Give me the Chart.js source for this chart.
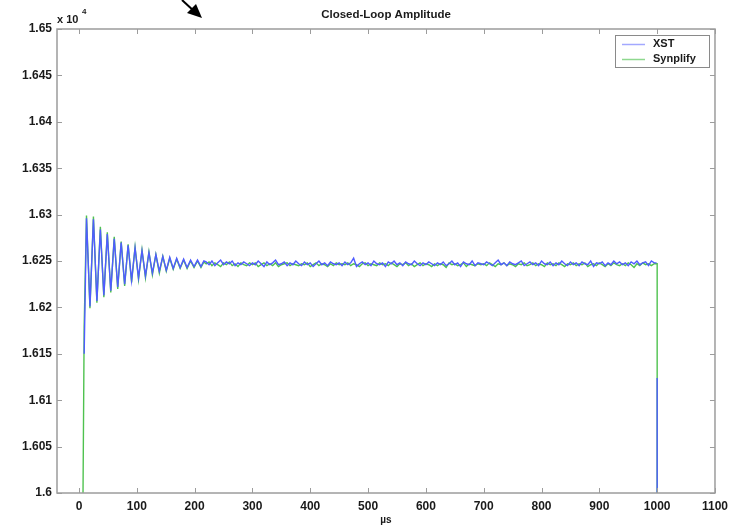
<!DOCTYPE html>
<html>
<head>
<meta charset="utf-8">
<script src="https://cdn.jsdelivr.net/npm/chart.js@4.4.1/dist/chart.umd.min.js"></script>
<style>
  body { margin: 0; background: #fff; }
  #wrap { width: 734px; height: 526px; position: relative; }
</style>
</head>
<body>
<div id="wrap"><canvas id="grafico"></canvas></div>
<script>
const xTicks = [0, 100, 200, 300, 400, 500, 600, 700, 800, 900, 1000, 1100];
const yTicks = [16000, 16050, 16100, 16150, 16200, 16250, 16300, 16350, 16400, 16450, 16500];
const seriesNames = ['XST', 'Synplify'];

// start-up ringing (µs / raw amplitude)
const rampTimes = [7, 9, 13, 19, 25, 31, 37, 43, 49, 55, 61, 67, 73, 79, 85, 91, 97, 103, 109, 115,
  121, 127, 133, 139, 145, 151, 157, 163, 169, 175, 181, 187, 193, 199, 205, 211, 216];
const rampXst = [null, 16150, 16296, 16201, 16295, 16207, 16284, 16213, 16279, 16218, 16274, 16222, 16270, 16225, 16267, 16229, 16264, 16232, 16261, 16234,
  16259, 16237, 16257, 16239, 16255, 16240, 16254, 16242, 16253, 16243, 16252, 16243, 16251, 16244, 16251, 16244, 16250];
const rampSynplify = [16000, 16180, 16299, 16199, 16298, 16205, 16287, 16211, 16281, 16216, 16276, 16220, 16271, 16223, 16268, 16227, 16265, 16230, 16262, 16232,
  16260, 16235, 16257, 16237, 16255, 16239, 16253, 16241, 16252, 16242, 16251, 16242, 16250, 16243, 16250, 16243, 16249];

// steady state
const steadyTimes = [
  220, 225, 230, 235, 240, 245, 250, 255, 260, 265, 270, 275, 280, 285, 290, 295,
  300, 305, 310, 315, 320, 325, 330, 335, 340, 345, 350, 355, 360, 365, 370, 375,
  380, 385, 390, 395, 400, 405, 410, 415, 420, 425, 430, 435, 440, 445, 450, 455,
  460, 465, 470, 475, 480, 485, 490, 495, 500, 505, 510, 515, 520, 525, 530, 535,
  540, 545, 550, 555, 560, 565, 570, 575, 580, 585, 590, 595, 600, 605, 610, 615,
  620, 625, 630, 635, 640, 645, 650, 655, 660, 665, 670, 675, 680, 685, 690, 695,
  700, 705, 710, 715, 720, 725, 730, 735, 740, 745, 750, 755, 760, 765, 770, 775,
  780, 785, 790, 795, 800, 805, 810, 815, 820, 825, 830, 835, 840, 845, 850, 855,
  860, 865, 870, 875, 880, 885, 890, 895, 900, 905, 910, 915, 920, 925, 930, 935,
  940, 945, 950, 955, 960, 965, 970, 975, 980, 985, 990, 995];
const steadyXst = [
  16249, 16246, 16250, 16245, 16248, 16251, 16246, 16249, 16247, 16250, 16245, 16248, 16246, 16249, 16247, 16245,
  16248, 16246, 16250, 16247, 16244, 16249, 16246, 16248, 16251, 16246, 16247, 16249, 16245, 16248, 16246, 16250,
  16247, 16245, 16249, 16246, 16248, 16244, 16247, 16250, 16246, 16248, 16245, 16249, 16247, 16246, 16248, 16245,
  16249, 16246, 16248, 16253, 16244, 16247, 16249, 16246, 16248, 16245, 16250, 16247, 16246, 16248, 16244, 16249,
  16247, 16250, 16246, 16248, 16245, 16249, 16247, 16246, 16250, 16247, 16245, 16248, 16246, 16249, 16247, 16245,
  16248, 16246, 16249, 16245, 16247, 16250, 16246, 16248, 16244, 16249, 16247, 16246, 16250, 16245, 16248, 16247,
  16246, 16249, 16247, 16245, 16248, 16251, 16246, 16248, 16245, 16249, 16247, 16246, 16248, 16250, 16245, 16247,
  16249, 16246, 16248, 16245, 16250, 16247, 16246, 16249, 16245, 16248, 16246, 16250, 16247, 16245, 16249, 16246,
  16248, 16245, 16249, 16247, 16246, 16250, 16244, 16248, 16247, 16249, 16245, 16248, 16246, 16250, 16247, 16249,
  16246, 16248, 16245, 16249, 16247, 16250, 16246, 16248, 16249, 16245, 16250, 16248];
const steadySynplify = [
  16247, 16249, 16245, 16248, 16246, 16244, 16248, 16246, 16249, 16245, 16247, 16244, 16248, 16246, 16245, 16248,
  16246, 16248, 16244, 16246, 16248, 16245, 16247, 16245, 16248, 16244, 16246, 16247, 16248, 16245, 16247, 16246,
  16245, 16247, 16246, 16248, 16244, 16246, 16248, 16245, 16247, 16246, 16244, 16247, 16245, 16248, 16246, 16247,
  16246, 16248, 16245, 16247, 16246, 16244, 16247, 16248, 16245, 16247, 16246, 16245, 16248, 16246, 16247, 16245,
  16248, 16246, 16244, 16247, 16246, 16248, 16245, 16247, 16244, 16246, 16248, 16245, 16247, 16246, 16244, 16247,
  16245, 16247, 16246, 16243, 16248, 16246, 16247, 16245, 16246, 16248, 16244, 16247, 16246, 16245, 16247, 16246,
  16247, 16245, 16248, 16246, 16244, 16247, 16246, 16248, 16245, 16247, 16246, 16244, 16247, 16246, 16248, 16245,
  16246, 16248, 16245, 16247, 16246, 16244, 16248, 16246, 16247, 16245, 16248, 16246, 16244, 16247, 16246, 16248,
  16245, 16247, 16246, 16248, 16244, 16246, 16247, 16245, 16248, 16246, 16244, 16247, 16245, 16248, 16246, 16245,
  16247, 16245, 16248, 16246, 16243, 16247, 16245, 16248, 16246, 16247, 16245, 16247];

// switch-off at 1000 µs
const endTimes = [999, 1000, 1000, 1000];
const endXst = [16248, null, 16124, 16000];
const endSynplify = [16247, 16247, 16000, 16000];

const cores = ['#4f5cff', '#4fc24f'];
const coresLegenda = ['#a3a8ff', '#8fd88f'];
const fonte = 'Liberation Sans, Arial, sans-serif';

function montarSerie(tempos, valores) {
    return tempos.map((t, i) => ({ x: t, y: valores[i] }));
}

const tempos = [...rampTimes, ...steadyTimes, ...endTimes];
const xst = [...rampXst, ...steadyXst, ...endXst];
const synplify = [...rampSynplify, ...steadySynplify, ...endSynplify];

const decoracao = {
    id: 'decoracao',
    afterDatasetsDraw(chart) {
        const { ctx, chartArea: a, scales: { x, y } } = chart;
        ctx.save();
        // moldura e ticks para dentro (estilo Matlab)
        ctx.strokeStyle = '#9c9c9c';
        ctx.lineWidth = 1.5;
        ctx.strokeRect(a.left, a.top, a.right - a.left, a.bottom - a.top);
        ctx.lineWidth = 1;
        ctx.beginPath();
        x.ticks.forEach(t => {
            const px = Math.round(x.getPixelForValue(t.value)) + 0.5;
            ctx.moveTo(px, a.bottom); ctx.lineTo(px, a.bottom - 5);
            ctx.moveTo(px, a.top); ctx.lineTo(px, a.top + 5);
        });
        y.ticks.forEach(t => {
            const py = Math.round(y.getPixelForValue(t.value)) + 0.5;
            ctx.moveTo(a.left, py); ctx.lineTo(a.left + 5, py);
            ctx.moveTo(a.right, py); ctx.lineTo(a.right - 5, py);
        });
        ctx.stroke();

        // legenda
        const lx = 615, ly = 35, lw = 94, lh = 32;
        ctx.fillStyle = '#fff';
        ctx.fillRect(lx, ly, lw, lh);
        ctx.strokeStyle = '#8a8a8a';
        ctx.lineWidth = 1;
        ctx.strokeRect(lx + 0.5, ly + 0.5, lw, lh);
        ctx.font = 'bold 11px ' + fonte;
        ctx.textBaseline = 'middle';
        ctx.textAlign = 'left';
        chart.data.datasets.forEach((ds, i) => {
            const yy = ly + 9 + i * 15;
            ctx.strokeStyle = coresLegenda[i];
            ctx.lineWidth = 1.5;
            ctx.beginPath();
            ctx.moveTo(lx + 7, yy + 0.5); ctx.lineTo(lx + 30, yy + 0.5);
            ctx.stroke();
            ctx.fillStyle = '#1a1a1a';
            ctx.fillText(ds.label, lx + 38, yy);
        });
        ctx.restore();
    },
    afterDraw(chart) {
        const { ctx, chartArea: a } = chart;
        ctx.save();
        ctx.fillStyle = '#1a1a1a';
        ctx.textBaseline = 'middle';
        ctx.textAlign = 'center';
        ctx.font = 'bold 11.5px ' + fonte;
        ctx.fillText('Closed-Loop Amplitude', (a.left + a.right) / 2, 15);
        // multiplicador do eixo y
        ctx.textAlign = 'left';
        ctx.font = 'bold 11px ' + fonte;
        ctx.fillText('x 10', a.left, 20);
        ctx.font = 'bold 8px ' + fonte;
        ctx.fillText('4', a.left + 25, 12);
        // seta preta no topo
        ctx.strokeStyle = '#000';
        ctx.fillStyle = '#000';
        ctx.lineWidth = 2;
        ctx.beginPath();
        ctx.moveTo(182, 0); ctx.lineTo(195, 12);
        ctx.stroke();
        ctx.beginPath();
        ctx.moveTo(202, 18); ctx.lineTo(187, 13); ctx.lineTo(196, 4);
        ctx.closePath();
        ctx.fill();
        ctx.restore();
    }
};

new Chart(document.getElementById('grafico'), {
    type: 'line',
    data: {
        datasets: [
            { label: seriesNames[0], data: montarSerie(tempos, xst), borderColor: cores[0], borderWidth: 1.4, pointRadius: 0, tension: 0, spanGaps: false },
            { label: seriesNames[1], data: montarSerie(tempos, synplify), borderColor: cores[1], borderWidth: 1.4, pointRadius: 0, tension: 0, spanGaps: false }
        ]
    },
    options: {
        responsive: true,
        maintainAspectRatio: false,
        animation: false,
        devicePixelRatio: 1,
        layout: { padding: { top: 29, right: 18, left: 0, bottom: 0 } },
        plugins: {
            legend: { display: false },
            title: { display: false },
            tooltip: { enabled: false }
        },
        scales: {
            x: {
                type: 'linear',
                min: -38,
                max: 1100,
                afterBuildTicks: s => { s.ticks = xTicks.map(v => ({ value: v })); },
                afterFit: s => { s.height = 33; },
                grid: { display: false, drawTicks: false },
                border: { display: false },
                ticks: {
                    padding: 6,
                    maxRotation: 0,
                    autoSkip: false,
                    color: '#1a1a1a',
                    font: { family: fonte, size: 12, weight: 'bold' },
                    callback: v => String(v)
                },
                title: { display: true, text: 'µs', color: '#1a1a1a', padding: 0, font: { family: fonte, size: 10, weight: 'bold' } }
            },
            y: {
                type: 'linear',
                min: 16000,
                max: 16500,
                afterBuildTicks: s => { s.ticks = yTicks.map(v => ({ value: v })); },
                afterFit: s => { s.width = 57; },
                grid: { display: false, drawTicks: false },
                border: { display: false },
                ticks: {
                    padding: 5,
                    autoSkip: false,
                    color: '#1a1a1a',
                    font: { family: fonte, size: 12, weight: 'bold' },
                    callback: v => String(Number((v / 1e4).toFixed(4)))
                }
            }
        }
    },
    plugins: [decoracao]
});
</script>
</body>
</html>
